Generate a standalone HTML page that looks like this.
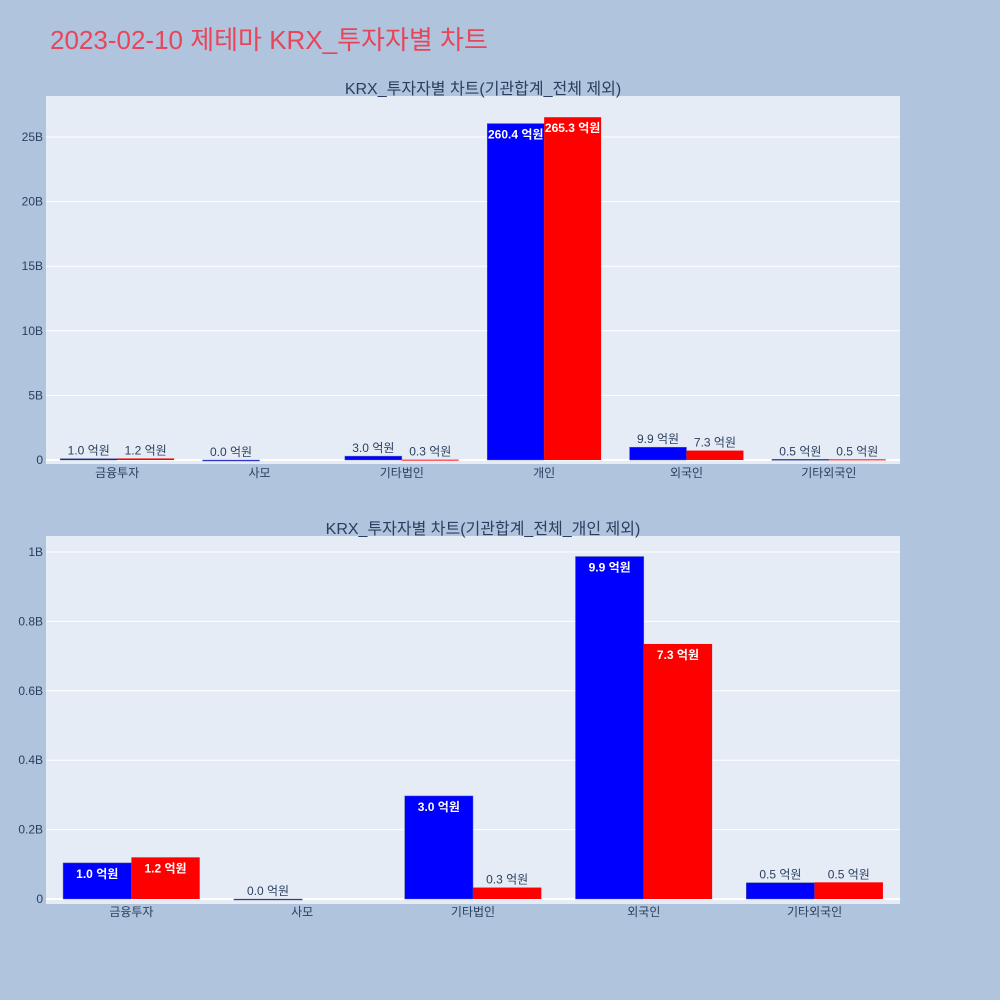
<!DOCTYPE html>
<html><head><meta charset="utf-8"><style>
body{margin:0;background:#b0c4de;font-family:"Liberation Sans","Noto Sans CJK KR",sans-serif;}
svg{display:block}
</style></head><body>
<svg id="c" width="1000" height="1000" xmlns="http://www.w3.org/2000/svg">
<rect width="1000" height="1000" fill="#b0c4de"/>
<text x="50" y="49" font-size="26" fill="#e8455a" font-family="Liberation Sans, Noto Sans CJK KR, sans-serif">2023-02-10 제테마 KRX_투자자별 차트</text>
</svg>
<script>
const topCats=["금융투자","사모","기타법인","개인","외국인","기타외국인"];
const topBlue=[0.104,0.0,0.30,26.04,0.99,0.05];
const topRed=[0.12,null,0.03,26.53,0.73,0.05];
const topBlueLbl=["1.0 억원","0.0 억원","3.0 억원","260.4 억원","9.9 억원","0.5 억원"];
const topRedLbl=["1.2 억원",null,"0.3 억원","265.3 억원","7.3 억원","0.5 억원"];
const topTicks=[0,5,10,15,20,25];
const topTickLbl=["0","5B","10B","15B","20B","25B"];
const botCats=["금융투자","사모","기타법인","외국인","기타외국인"];
const botBlue=[0.104,0.0,0.297,0.987,0.047];
const botRed=[0.12,null,0.033,0.735,0.048];
const botBlueLbl=["1.0 억원","0.0 억원","3.0 억원","9.9 억원","0.5 억원"];
const botRedLbl=["1.2 억원",null,"0.3 억원","7.3 억원","0.5 억원"];
const botTicks=[0,0.2,0.4,0.6,0.8,1];
const botTickLbl=["0","0.2B","0.4B","0.6B","0.8B","1B"];
const NS="http://www.w3.org/2000/svg";
const svg=document.getElementById('c');
function el(t,a,p){const e=document.createElementNS(NS,t);for(const k in a)e.setAttribute(k,a[k]);(p||svg).appendChild(e);return e;}
function panel(o){
  const g=el('g',{});
  
  
  const bg=el('rect',{x:o.x0,y:o.y0,width:o.x1-o.x0,height:o.y1-o.y0,fill:'#e5ecf6'},g);
  
  
  const y=v=>o.zeroY-v*o.ppu;
  o.ticks.forEach((t,i)=>{
    const ln=el('line',{x1:o.x0,x2:o.x1,y1:y(t),y2:y(t),stroke:'#fff','stroke-width':t===0?2:1},g);
    
    
    const tx=el('text',{x:o.x0-3,y:y(t)+4,'text-anchor':'end','font-size':12,fill:'#2a3f5f'},g);
    
    
    tx.textContent=o.tickLbl[i];
  });
  const tt=el('text',{x:(o.x0+o.x1)/2+10,y:o.y0-2,'text-anchor':'middle','font-size':16,fill:'#2a3f5f'},g);
  
  
  tt.textContent=o.title;
  const n=o.cats.length,bw=(o.x1-o.x0)/n,barW=bw*0.4;
  o.cats.forEach((c,i)=>{
    const cx=o.x0+bw*(i+0.5);
    const cl=el('text',{x:cx,y:o.zeroY+17,'text-anchor':'middle','font-size':12,fill:'#2a3f5f'},g);
    
    
    cl.textContent=c;
    [[o.blue,o.blueLbl,'#0000ff',cx-barW],[o.red,o.redLbl,'#ff0000',cx]].forEach(([arr,lbls,col,bx])=>{
      const v=arr[i]; if(v===null)return;
      const h=Math.max(v*o.ppu,0);
      const r=el('rect',{x:bx,y:o.zeroY-h,width:barW,height:Math.max(h,1),fill:col,stroke:col==='#0000ff'?'#5a6a9a':'none','stroke-width':0.5},g);
      
      
      const lbl=lbls[i];
      const tw=lbl.length*6.5;
      let t;
      if(h>22){
        if(tw>barW-4){
          t=el('text',{x:0,y:0,'font-size':12,fill:'#fff','font-weight':'bold',transform:`translate(${bx+barW/2-4},${o.zeroY-h+4}) rotate(90)`},g);
        }else{
          t=el('text',{x:bx+barW/2,y:o.zeroY-h+15,'text-anchor':'middle','font-size':12,fill:'#fff','font-weight':'bold'},g);
        }
      }else{
        t=el('text',{x:bx+barW/2,y:o.zeroY-h-4,'text-anchor':'middle','font-size':12,fill:'#2a3f5f'},g);
      }
      
      
      t.textContent=lbl;
    });
  });
}
panel({name:'top-panel',x0:46,x1:900,y0:96,y1:464,zeroY:460,ppu:12.92,ticks:topTicks,tickLbl:topTickLbl,cats:topCats,blue:topBlue,red:topRed,blueLbl:topBlueLbl,redLbl:topRedLbl,title:'KRX_투자자별 차트(기관합계_전체 제외)'});
panel({name:'bottom-panel',x0:46,x1:900,y0:536,y1:904,zeroY:899,ppu:347,ticks:botTicks,tickLbl:botTickLbl,cats:botCats,blue:botBlue,red:botRed,blueLbl:botBlueLbl,redLbl:botRedLbl,title:'KRX_투자자별 차트(기관합계_전체_개인 제외)'});
</script>
</body></html>
